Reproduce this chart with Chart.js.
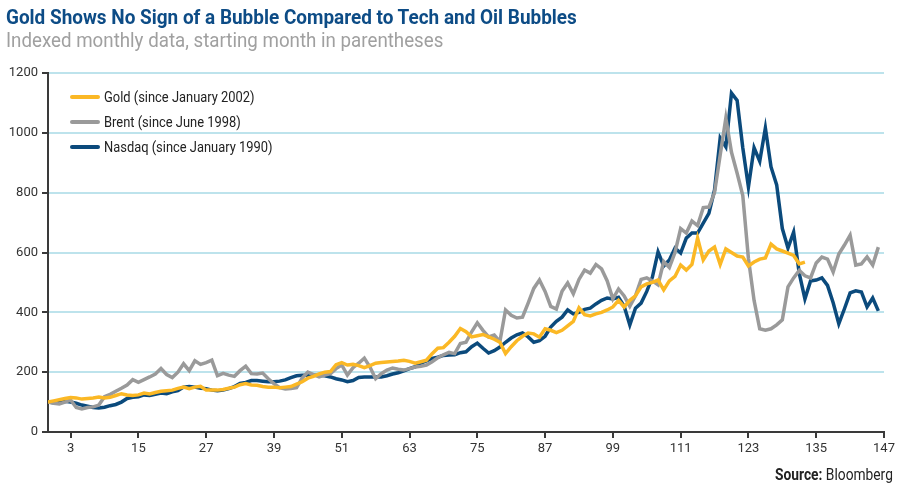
<!DOCTYPE html>
<html>
<head>
<meta charset="utf-8">
<script src="https://cdn.jsdelivr.net/npm/chart.js@4.4.0/dist/chart.umd.min.js"></script>
<style>
  body { margin: 0; background: #fff; }
  #wrap { position: relative; width: 899px; height: 487px; overflow: hidden; }
  #chart { position: absolute; left: 0; top: 0; }
  .txt { position: absolute; white-space: nowrap; transform-origin: 0 0; font-family: Roboto, sans-serif; line-height: normal; }
  #title { left: 6px; top: 5px; font-size: 21px; font-weight: bold; color: #0d4c86; }
  #subtitle { left: 6px; top: 28px; font-size: 21px; color: #a0a0a0; }
  #source { left: 775px; top: 465px; font-size: 16px; color: #222; }
</style>
</head>
<body>
<div id="wrap">
  <canvas id="chart" width="899" height="487"></canvas>
  <div class="txt" id="title">Gold Shows No Sign of a Bubble Compared to Tech and Oil Bubbles</div>
  <div class="txt" id="subtitle">Indexed monthly data, starting month in parentheses</div>
  <div class="txt" id="source"><b>Source:</b> Bloomberg</div>
</div>
<script>
// month of the first point of every series (month -1 sits on the y axis)
const firstMonth = -1;
const tickMonths = [3, 15, 27, 39, 51, 63, 75, 87, 99, 111, 123, 135, 147];

const gold = [
  100, 104, 108, 112, 115, 114, 110, 112, 114, 117, 114, 116, 122, 128, 124, 122, 124, 130, 127, 132,
  136, 138, 140, 146, 150, 145, 150, 153, 140, 140, 140, 142, 146, 150, 158, 162, 157, 156, 152, 150,
  150, 148, 150, 152, 160, 168, 180, 186, 194, 200, 202, 225, 232, 224, 226, 222, 215, 222, 230, 232,
  234, 236, 237, 240, 236, 230, 235, 240, 262, 280, 282, 300, 320, 346, 335, 318, 322, 326, 318, 310,
  300, 262, 285, 305, 320, 331, 328, 317, 345, 340, 332, 340, 355, 370, 415, 392, 388, 395, 400, 408,
  418, 440, 418, 440, 455, 485, 495, 500, 508, 475, 505, 520, 558, 541, 560, 648, 575, 605, 618, 560,
  612, 600, 588, 585, 555, 568, 578, 582, 628, 612, 605, 598, 590, 562, 568
];

const brent = [
  100, 96, 94, 100, 107, 82, 77, 82, 84, 90, 118, 126, 136, 146, 157, 175, 166, 175, 184, 194,
  212, 192, 182, 200, 228, 205, 238, 226, 232, 240, 188, 196, 190, 186, 205, 220, 195, 194, 197, 178,
  162, 148, 144, 145, 148, 180, 200, 192, 184, 190, 195, 212, 224, 190, 215, 230, 247, 217, 178, 195,
  207, 214, 210, 207, 212, 217, 220, 224, 235, 248, 258, 266, 262, 296, 300, 335, 365, 340, 318, 324,
  302, 408, 390, 381, 384, 431, 480, 508, 470, 420, 411, 470, 498, 462, 510, 541, 531, 560, 545, 505,
  445, 478, 455, 420, 455, 510, 515, 505, 492, 570, 550, 600, 680, 665, 705, 690, 750, 752, 800, 926,
  1049, 935, 865, 790, 580, 440, 345, 340, 345, 358, 375, 485, 515, 540, 522, 515, 565, 585, 578, 535,
  595, 625, 658, 558, 562, 585, 558, 618
];

const nasdaq = [
  100, 98, 100, 103, 100, 96, 90, 86, 82, 80, 83, 88, 92, 100, 112, 116, 118, 124, 122, 126,
  130, 128, 134, 138, 150, 152, 150, 146, 145, 140, 138, 140, 145, 152, 162, 166, 172, 172, 170, 168,
  168, 170, 174, 182, 188, 190, 190, 190, 190, 188, 184, 178, 174, 168, 172, 182, 184, 184, 184, 184,
  188, 194, 198, 204, 212, 218, 230, 238, 246, 250, 256, 257, 258, 265, 268, 285, 297, 280, 264, 272,
  284, 300, 314, 325, 331, 318, 300, 305, 320, 351, 370, 384, 408, 395, 400, 410, 414, 428, 440, 448,
  445, 450, 420, 358, 414, 431, 470, 518, 602, 555, 575, 615, 598, 648, 665, 665, 698, 731, 809, 983,
  953, 1133, 1108, 950, 819, 950, 905, 1016, 886, 826, 680, 615, 668, 530, 445, 505, 508, 515, 490, 432,
  362, 412, 465, 472, 468, 418, 448, 405
];

const seriesNames = ['Gold (since January 2002)', 'Brent (since June 1998)', 'Nasdaq (since January 1990)'];
const seriesColors = ['#fbb825', '#9a9a9a', '#0b4a7c'];

const toPoints = arr => arr.map((v, i) => ({ x: firstMonth + i, y: v }));

// legend drawn inside the plot, top left
const insideLegend = {
  id: 'insideLegend',
  afterDraw(chart) {
    const ctx = chart.ctx;
    const { left, top } = chart.chartArea;
    ctx.save();
    ctx.font = '15px Roboto';
    ctx.textBaseline = 'middle';
    chart.data.datasets.forEach((ds, i) => {
      const y = top + 24 + i * 25;
      ctx.strokeStyle = ds.borderColor;
      ctx.lineWidth = 4;
      ctx.lineCap = 'round';
      ctx.beginPath();
      ctx.moveTo(left + 24, y);
      ctx.lineTo(left + 50, y);
      ctx.stroke();
      ctx.fillStyle = '#222';
      ctx.save();
      ctx.translate(left + 56, y + 1);
      ctx.scale(0.86, 1);
      ctx.fillText(ds.label, 0, 0);
      ctx.restore();
    });
    ctx.restore();
  }
};

new Chart(document.getElementById('chart'), {
  type: 'line',
  data: {
    datasets: [gold, brent, nasdaq].map((arr, i) => ({
      label: seriesNames[i],
      data: toPoints(arr),
      borderColor: seriesColors[i],
      backgroundColor: seriesColors[i],
      borderWidth: 3.5,
      pointRadius: 0,
      tension: 0,
      fill: false
    }))
  },
  options: {
    responsive: false,
    animation: false,
    layout: { padding: { top: 73, right: 15, left: 0, bottom: 0 } },
    plugins: {
      legend: { display: false },
      tooltip: { enabled: false }
    },
    scales: {
      x: {
        type: 'linear',
        min: -1,
        max: 147,
        afterBuildTicks: axis => { axis.ticks = tickMonths.map(v => ({ value: v })); },
        afterFit: s => { s.height = 55; },
        grid: { drawOnChartArea: false, tickColor: '#3a3a3a', tickLength: 6, lineWidth: 2 },
        border: { color: '#3a3a3a', width: 2 },
        ticks: {
          autoSkip: false, maxRotation: 0, padding: 3,
          color: '#333', font: { family: 'Roboto', size: 13 },
          callback: v => String(v)
        }
      },
      y: {
        min: 0,
        max: 1200,
        afterFit: s => { s.width = 48; },
        grid: { color: '#bde3ec', tickColor: '#3a3a3a', tickLength: 6, lineWidth: 2 },
        border: { color: '#3a3a3a', width: 2 },
        ticks: {
          stepSize: 200, padding: 4,
          color: '#333', font: { family: 'Roboto', size: 13 },
          callback: v => String(v)
        }
      }
    }
  },
  plugins: [insideLegend]
});

// condensed headline fonts: squeeze text to the widths in the original
function squeeze(id, width) {
  const el = document.getElementById(id);
  el.style.transform = 'scaleX(' + (width / el.offsetWidth) + ')';
}
squeeze('title', 571);
squeeze('subtitle', 437);
squeeze('source', 118);
</script>
</body>
</html>
